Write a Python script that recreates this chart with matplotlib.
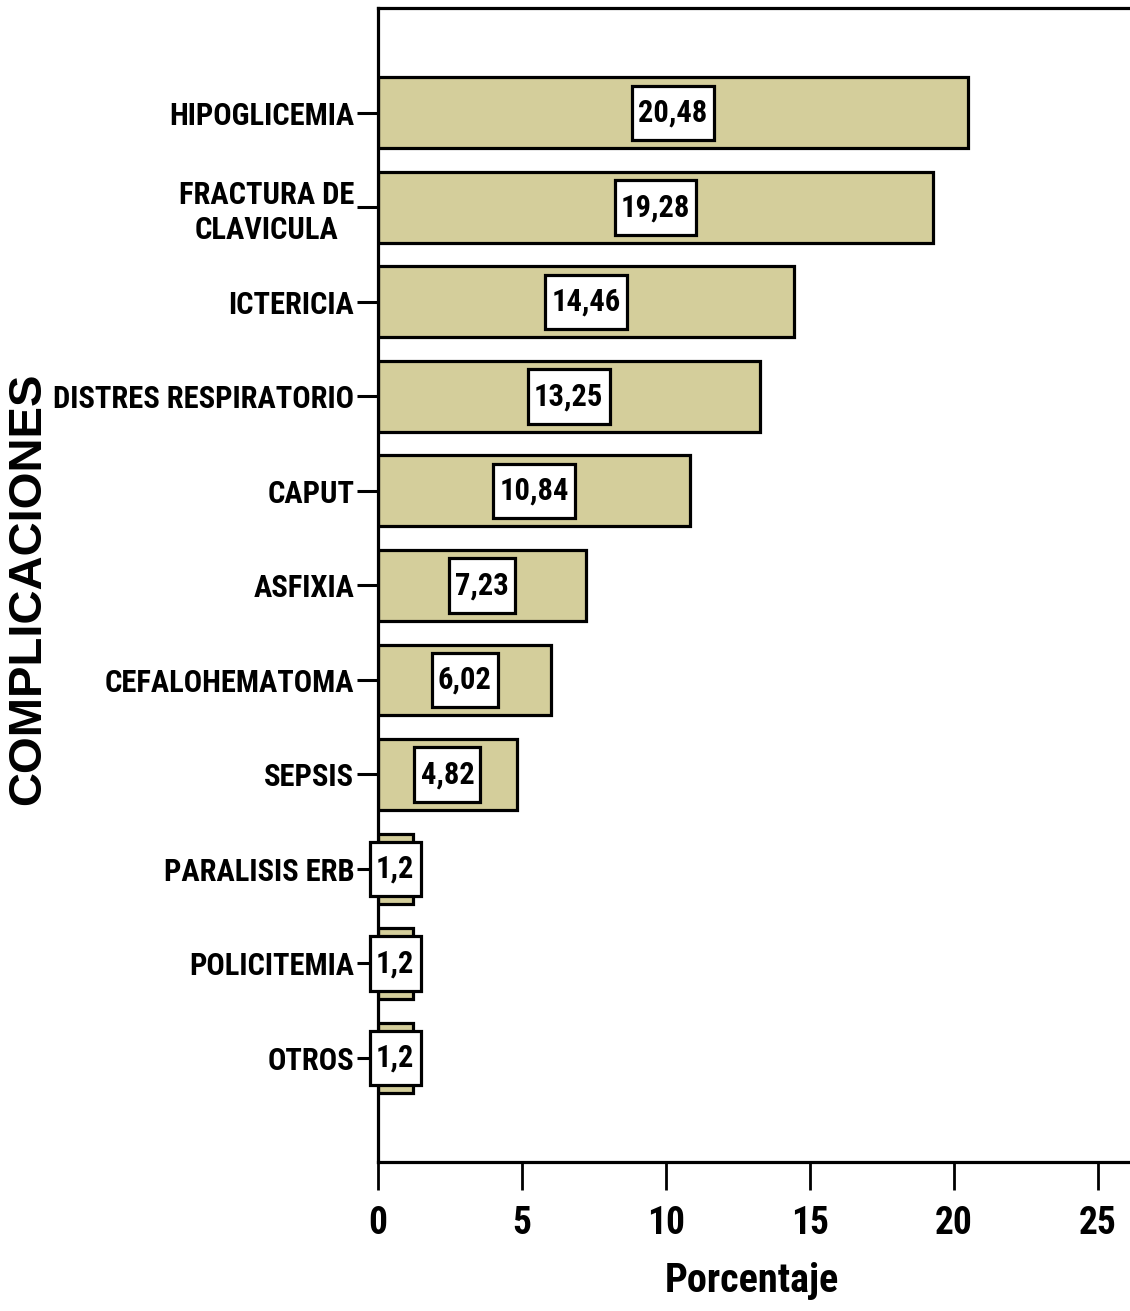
import matplotlib
matplotlib.use("Agg")
import matplotlib.pyplot as plt
from matplotlib.path import Path
import numpy as np

# complicaciones y porcentajes
complicaciones = ["HIPOGLICEMIA", "FRACTURA DE\nCLAVICULA", "ICTERICIA",
                  "DISTRES RESPIRATORIO", "CAPUT", "ASFIXIA", "CEFALOHEMATOMA",
                  "SEPSIS", "PARALISIS ERB", "POLICITEMIA", "OTROS"]
porcentaje = [20.48, 19.28, 14.46, 13.25, 10.84, 7.23, 6.02, 4.82, 1.2, 1.2, 1.2]
xticks = [0, 5, 10, 15, 20, 25]

narrow = ["Liberation Sans Narrow", "Arial Narrow", "Roboto Condensed", "DejaVu Sans"]
ancha = ["Liberation Sans", "Arimo", "DejaVu Sans"]
color_barra = "#D4CE9B"


def caja(x0, y0, width, height, mutation_size):
    # recuadro con mas relleno vertical que horizontal
    px = 0.2 * mutation_size
    py = 0.4 * mutation_size
    x0, x1 = x0 - px, x0 + width + px
    y0, y1 = y0 - py, y0 + height + py
    return Path([(x0, y0), (x1, y0), (x1, y1), (x0, y1), (x0, y0)], closed=True)


fig = plt.figure(figsize=(11.3, 13.11), dpi=100)
ax = fig.add_axes([0.3345, 0.1137, 0.6655, 0.8802])

pos = np.arange(len(complicaciones))
ax.barh(pos, porcentaje, height=0.75, color=color_barra,
        edgecolor="black", linewidth=2.3)

for p, v in zip(pos, porcentaje):
    txt = "{:g}".format(v).replace(".", ",")
    ax.text(v / 2, p, txt, ha="center", va="center", fontsize=22,
            fontweight="bold", family=narrow,
            bbox=dict(boxstyle=caja, facecolor="white",
                      edgecolor="black", linewidth=2.3))

ax.set_ylim(len(complicaciones) - 1 + 1.1, -1.11)
ax.set_xlim(0, 26.11)
ax.set_yticks(pos)
ax.set_yticklabels(complicaciones, fontsize=22, fontweight="bold",
                   family=narrow, multialignment="center", linespacing=1.2)
ax.set_xticks(xticks)
ax.set_xticklabels([str(t) for t in xticks], fontsize=27, fontweight="bold",
                   family=narrow)

ax.tick_params(axis="y", length=15, width=2.2, pad=2)
ax.tick_params(axis="x", length=20, width=2.0, pad=11)

for s in ["left", "top", "bottom"]:
    ax.spines[s].set_linewidth(2.3)
ax.spines["right"].set_visible(False)

ax.set_xlabel("Porcentaje", fontsize=29, fontweight="bold", family=narrow)
ax.xaxis.set_label_coords(0.497, -0.087)
ax.set_ylabel("COMPLICACIONES", fontsize=34, fontweight="bold", family=ancha)
ax.yaxis.set_label_coords(-0.436, 0.497)

fig.savefig("out.png", dpi=100)
